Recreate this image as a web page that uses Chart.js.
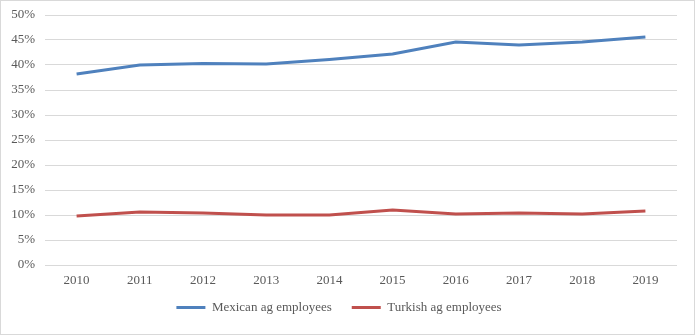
<!DOCTYPE html>
<html>
<head>
<meta charset="utf-8">
<script src="https://cdn.jsdelivr.net/npm/chart.js@4.4.1/dist/chart.umd.min.js"></script>
<style>
  html, body { margin: 0; padding: 0; background: #fff; }
  #wrap { width: 695px; height: 335px; box-sizing: border-box; border: 1px solid #D9D9D9; }
  canvas { display: block; }
</style>
</head>
<body>
<div id="wrap"><canvas id="agChart" width="693" height="333"></canvas></div>
<script>
const years = ['2010', '2011', '2012', '2013', '2014', '2015', '2016', '2017', '2018', '2019'];
const mexicanAg = [0.382, 0.400, 0.403, 0.402, 0.411, 0.422, 0.446, 0.440, 0.446, 0.456];
const turkishAg = [0.098, 0.106, 0.104, 0.100, 0.100, 0.110, 0.102, 0.104, 0.102, 0.108];

const fontFamily = "'Liberation Serif', 'DejaVu Serif', serif";
Chart.defaults.font.family = fontFamily;
Chart.defaults.font.size = 13;
Chart.defaults.color = '#595959';

const ctx = document.getElementById('agChart').getContext('2d');

const agChart = new Chart(ctx, {
  type: 'line',
  data: {
    labels: years,
    datasets: [{
      label: 'Mexican ag employees',
      borderColor: '#4F81BD',
      backgroundColor: '#4F81BD',
      borderWidth: 3,
      pointRadius: 0,
      tension: 0,
      fill: false,
      data: mexicanAg,
    }, {
      label: 'Turkish ag employees',
      borderColor: '#C0504D',
      backgroundColor: '#C0504D',
      borderWidth: 3,
      pointRadius: 0,
      tension: 0,
      fill: false,
      data: turkishAg,
    }]
  },
  options: {
    responsive: false,
    animation: false,
    layout: {
      padding: { left: 0, right: 17, top: 14, bottom: 10 }
    },
    plugins: {
      tooltip: { enabled: false },
      legend: {
        position: 'bottom',
        labels: {
          boxWidth: 29,
          boxHeight: 3,
          padding: 20,
          color: '#595959',
          generateLabels: (chart) => Chart.defaults.plugins.legend.labels.generateLabels(chart)
            .map(item => Object.assign(item, { lineWidth: 0 }))
        }
      }
    },
    scales: {
      x: {
        offset: true,
        grid: { display: false, drawTicks: false },
        border: { display: false },
        ticks: { padding: 8 },
        afterFit: (scale) => {
          scale.height = 16;
          // keep year labels from being clipped to the short axis box
          scale._computeLabelArea = () => undefined;
        }
      },
      y: {
        min: 0,
        max: 0.5,
        grid: { color: '#D9D9D9', lineWidth: 1, drawTicks: false },
        border: { display: false },
        ticks: {
          stepSize: 0.05,
          padding: 10,
          callback: (v) => Math.round(v * 100) + '%'
        },
        afterFit: (scale) => {
          scale.width = 44;
          scale.paddingTop = 0;
          scale.paddingBottom = 0;
        }
      }
    }
  }
});
</script>
</body>
</html>
